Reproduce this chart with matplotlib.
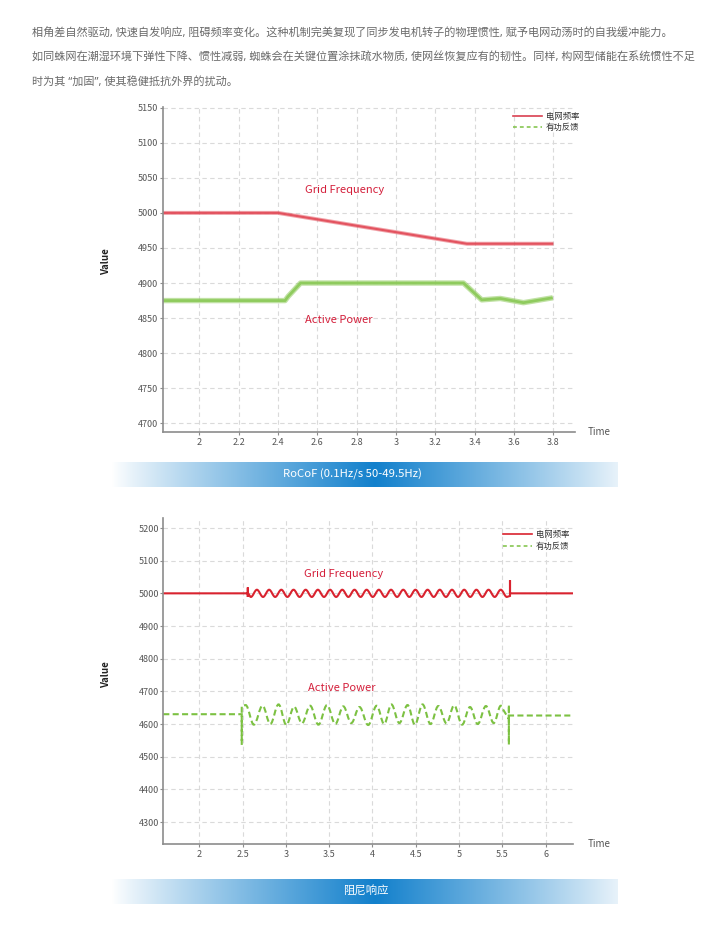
import numpy as np
import matplotlib
matplotlib.use("Agg")
import matplotlib.pyplot as plt
from matplotlib.path import Path
from matplotlib.patches import PathPatch
from matplotlib.lines import Line2D

plt.rcParams['font.family'] = ['Noto Sans CJK SC', 'DejaVu Sans']

# ---------------- data ----------------
header_lines = [
    "相角差自然驱动, 快速自发响应, 阻碍频率变化。这种机制完美复现了同步发电机转子的物理惯性, 赋予电网动荡时的自我缓冲能力。",
    "如同蛛网在潮湿环境下弹性下降、惯性减弱, 蜘蛛会在关键位置涂抹疏水物质, 使网丝恢复应有的韧性。同样, 构网型储能在系统惯性不足",
    "时为其 “加固”, 使其稳健抵抗外界的扰动。",
]
legend_labels = ["电网频率", "有功反馈"]
banner1_text = "RoCoF (0.1Hz/s 50-49.5Hz)"
banner2_text = "阻尼响应"

# Chart 1 (RoCoF)
c1_xticks = [2, 2.2, 2.4, 2.6, 2.8, 3, 3.2, 3.4, 3.6, 3.8]
c1_xticklabels = ["2", "2.2", "2.4", "2.6", "2.8", "3", "3.2", "3.4", "3.6", "3.8"]
c1_yticks = [4700, 4750, 4800, 4850, 4900, 4950, 5000, 5050, 5100, 5150]
c1_freq_t = [1.815, 2.40, 3.36, 3.80]
c1_freq_v = [5000, 5000, 4956, 4956]
c1_power_t = [1.815, 2.436, 2.452, 2.515, 3.343, 3.436, 3.53, 3.648, 3.797]
c1_power_v = [4875, 4875, 4881, 4900, 4900, 4876, 4878, 4872, 4879]

# Chart 2 (damping)
c2_xticks = [2, 2.5, 3, 3.5, 4, 4.5, 5, 5.5, 6]
c2_xticklabels = ["2", "2.5", "3", "3.5", "4", "4.5", "5", "5.5", "6"]
c2_yticks = [4300, 4400, 4500, 4600, 4700, 4800, 4900, 5000, 5100, 5200]

c2_freq_pre_t = [1.584, 2.56, 2.56, 2.56, 2.56]
c2_freq_pre_v = [5000, 5000, 5018, 4989, 5000]
c2_freq_ext_t = [2.595, 2.665, 2.736, 2.806, 2.876, 2.947, 3.017, 3.088, 3.158, 3.228,
                 3.299, 3.369, 3.440, 3.510, 3.580, 3.651, 3.721, 3.792, 3.862, 3.932,
                 4.003, 4.073, 4.144, 4.214, 4.284, 4.355, 4.425, 4.496, 4.566, 4.636,
                 4.707, 4.777, 4.848, 4.918, 4.988, 5.059, 5.129, 5.200, 5.270, 5.340,
                 5.411, 5.481, 5.552]
c2_freq_ext_v = [4989, 5011, 4989, 5011, 4989, 5011, 4989, 5011, 4989, 5011,
                 4989, 5011, 4989, 5011, 4989, 5011, 4989, 5011, 4989, 5011,
                 4989, 5011, 4989, 5011, 4989, 5011, 4989, 5011, 4989, 5011,
                 4989, 5011, 4989, 5011, 4989, 5011, 4989, 5011, 4989, 5011,
                 4989, 5011, 4989]
c2_freq_post_t = [5.588, 5.588, 5.588, 6.319]
c2_freq_post_v = [4992, 5040, 5000, 5000]

c2_power_pre_t = [1.584, 2.49, 2.49, 2.49]
c2_power_pre_v = [4630, 4630, 4537, 4656]
c2_power_ext_t = [2.535, 2.63, 2.73, 2.82, 2.915, 3.005, 3.095, 3.185, 3.28, 3.375,
                  3.475, 3.57, 3.663, 3.755, 3.85, 3.95, 4.048, 4.135, 4.218, 4.31,
                  4.405, 4.49, 4.578, 4.67, 4.76, 4.855, 4.943, 5.035, 5.126, 5.215,
                  5.31, 5.40, 5.482]
c2_power_ext_v = [4658, 4598, 4656, 4600, 4660, 4597, 4653, 4602, 4656, 4598,
                  4658, 4600, 4654, 4603, 4652, 4597, 4656, 4600, 4660, 4603,
                  4658, 4598, 4660, 4600, 4655, 4602, 4657, 4598, 4652, 4600,
                  4655, 4603, 4656]
c2_power_post_t = [5.575, 5.575, 5.575, 5.575, 6.319]
c2_power_post_v = [4615, 4659, 4537, 4626, 4626]

# ---------------- style ----------------
RED = "#d9232f"
RED_BAND = "#e24a57"
GREEN = "#7cc142"
GREEN_BAND = "#8dca5a"
TXT_RED = "#d41e3a"
TICK_C = "#555555"
SPINE_C = "#8c8c8c"
GRID_C = "#dadada"
HEADER_FONT = ['Noto Sans', 'Noto Sans CJK SC', 'DejaVu Sans']

W, H = 710, 925
fig = plt.figure(figsize=(W / 100, H / 100), dpi=100)
fig.patch.set_facecolor("white")


def fx(px):
    return px / W


def fy(py):
    return 1 - py / H


def style_axes(ax, xlim, ylim, xticks, xlabels, yticks):
    ax.set_xlim(*xlim)
    ax.set_ylim(*ylim)
    ax.set_xticks(xticks)
    ax.set_xticklabels(xlabels)
    ax.set_yticks(yticks)
    for s in ("top", "right"):
        ax.spines[s].set_visible(False)
    for s in ("left", "bottom"):
        ax.spines[s].set_color(SPINE_C)
        ax.spines[s].set_linewidth(1.2)
    ax.tick_params(axis="both", colors=SPINE_C, labelcolor=TICK_C, labelsize=6.5,
                   length=2.2, width=0.8)
    ax.tick_params(axis="y", pad=1)
    ax.tick_params(axis="x", pad=2)
    ax.grid(True, color=GRID_C, linestyle=(0, (4, 3)), linewidth=0.8)
    ax.set_axisbelow(True)


def wave_path(pre_t, pre_v, ext_t, ext_v, post_t, post_v, k=0.364):
    verts = [(pre_t[0], pre_v[0])]
    codes = [Path.MOVETO]
    for t, v in zip(pre_t[1:], pre_v[1:]):
        verts.append((t, v))
        codes.append(Path.LINETO)
    ct, cv = pre_t[-1], pre_v[-1]
    for t, v in zip(ext_t, ext_v):
        dt = t - ct
        verts += [(ct + k * dt, cv), (t - k * dt, v), (t, v)]
        codes += [Path.CURVE4] * 3
        ct, cv = t, v
    for t, v in zip(post_t, post_v):
        verts.append((t, v))
        codes.append(Path.LINETO)
    return Path(verts, codes)


# ---------------- header text ----------------
for i, line in enumerate(header_lines):
    fig.text(fx(32), fy(37 + i * 23.7), line, fontsize=8.0, color="#6a6a6a",
             ha="left", va="baseline", family=HEADER_FONT)

# ---------------- chart 1 ----------------
ax1 = fig.add_axes([fx(162.7), fy(432.3), fx(575) - fx(162.7), fy(106.7) - fy(432.3)])
style_axes(ax1, (1.814, 3.91), (4687.2, 5151.4), c1_xticks, c1_xticklabels, c1_yticks)
ax1.plot(c1_freq_t, c1_freq_v, color=RED_BAND, lw=2.9, alpha=0.5, solid_capstyle="butt")
ax1.plot(c1_freq_t, c1_freq_v, color=RED_BAND, lw=1.5, alpha=0.9, solid_capstyle="butt")
ax1.plot(c1_power_t, c1_power_v, color=GREEN_BAND, lw=3.9, alpha=0.55, solid_capstyle="butt")
ax1.plot(c1_power_t, c1_power_v, color=GREEN_BAND, lw=2.0, alpha=0.95, solid_capstyle="butt")
ax1.text(2.74, 5032, "Grid Frequency", color=TXT_RED, fontsize=8, ha="center", va="center")
ax1.text(2.71, 4847, "Active Power", color=TXT_RED, fontsize=8, ha="center", va="center")

handles = [Line2D([], [], color="#d94050", lw=1.2),
           Line2D([], [], color=GREEN, lw=1.1, ls=(0, (2.5, 2)))]
ax1.legend(handles, legend_labels, loc="upper left", bbox_to_anchor=(fx(513), fy(112)),
           bbox_transform=fig.transFigure, frameon=False, fontsize=6, handlelength=3.5,
           handletextpad=0.45, labelspacing=0.25, borderpad=0, borderaxespad=0,
           labelcolor="#333333")

fig.text(fx(106), fy(262), "Value", rotation=90, fontsize=7, fontweight="bold",
         color="#222222", ha="center", va="center")
fig.text(fx(588), fy(432.3), "Time", fontsize=7, color=TICK_C, ha="left", va="center")

# ---------------- chart 2 ----------------
ax2 = fig.add_axes([fx(163.3), fy(844), fx(573.3) - fx(163.3), fy(518.3) - fy(844)])
style_axes(ax2, (1.584, 6.319), (4232.7, 5229.7), c2_xticks, c2_xticklabels, c2_yticks)
freq_path = wave_path(c2_freq_pre_t, c2_freq_pre_v, c2_freq_ext_t, c2_freq_ext_v,
                      c2_freq_post_t, c2_freq_post_v)
ax2.add_patch(PathPatch(freq_path, fill=False, edgecolor=RED, lw=1.5,
                        transform=ax2.transData))
power_path = wave_path(c2_power_pre_t, c2_power_pre_v, c2_power_ext_t, c2_power_ext_v,
                       c2_power_post_t, c2_power_post_v)
ax2.add_patch(PathPatch(power_path, fill=False, edgecolor=GREEN, lw=1.5,
                        linestyle=(0, (2.9, 1.6)), capstyle="butt",
                        transform=ax2.transData))
ax2.text(3.663, 5060, "Grid Frequency", color=TXT_RED, fontsize=8, ha="center", va="center")
ax2.text(3.648, 4710, "Active Power", color=TXT_RED, fontsize=8, ha="center", va="center")

handles2 = [Line2D([], [], color=RED, lw=1.2),
            Line2D([], [], color=GREEN, lw=1.1, ls=(0, (2.5, 2)))]
ax2.legend(handles2, legend_labels, loc="upper left", bbox_to_anchor=(fx(503), fy(530)),
           bbox_transform=fig.transFigure, frameon=False, fontsize=6, handlelength=3.5,
           handletextpad=0.45, labelspacing=0.35, borderpad=0, borderaxespad=0,
           labelcolor="#333333")

fig.text(fx(106), fy(675), "Value", rotation=90, fontsize=7, fontweight="bold",
         color="#222222", ha="center", va="center")
fig.text(fx(588), fy(844), "Time", fontsize=7, color=TICK_C, ha="left", va="center")


# ---------------- banners ----------------
def banner(x0, x1, y0, y1, text, tx):
    bax = fig.add_axes([fx(x0), fy(y1), fx(x1) - fx(x0), fy(y0) - fy(y1)])
    xs = np.linspace(0, 1, 600)
    w = np.clip(1 - np.abs(xs - 0.52) / 0.52, 0, 1) ** 0.9
    blue = np.array([0x12, 0x80, 0xcc]) / 255.0
    white = np.array([1.0, 1.0, 1.0])
    cols = white[None, :] * (1 - w[:, None]) + blue[None, :] * w[:, None]
    img = np.repeat(cols[None, :, :], 2, axis=0)
    bax.imshow(img, aspect="auto", extent=(0, 1, 0, 1), interpolation="bilinear")
    bax.set_axis_off()
    fig.text(fx(tx), fy((y0 + y1) / 2), text, color="white", fontsize=8.2,
             ha="center", va="center")


banner(112, 618, 462, 487, banner1_text, 352)
banner(112, 618, 879, 904, banner2_text, 365.7)

fig.savefig("out.png", dpi=100, facecolor="white")
